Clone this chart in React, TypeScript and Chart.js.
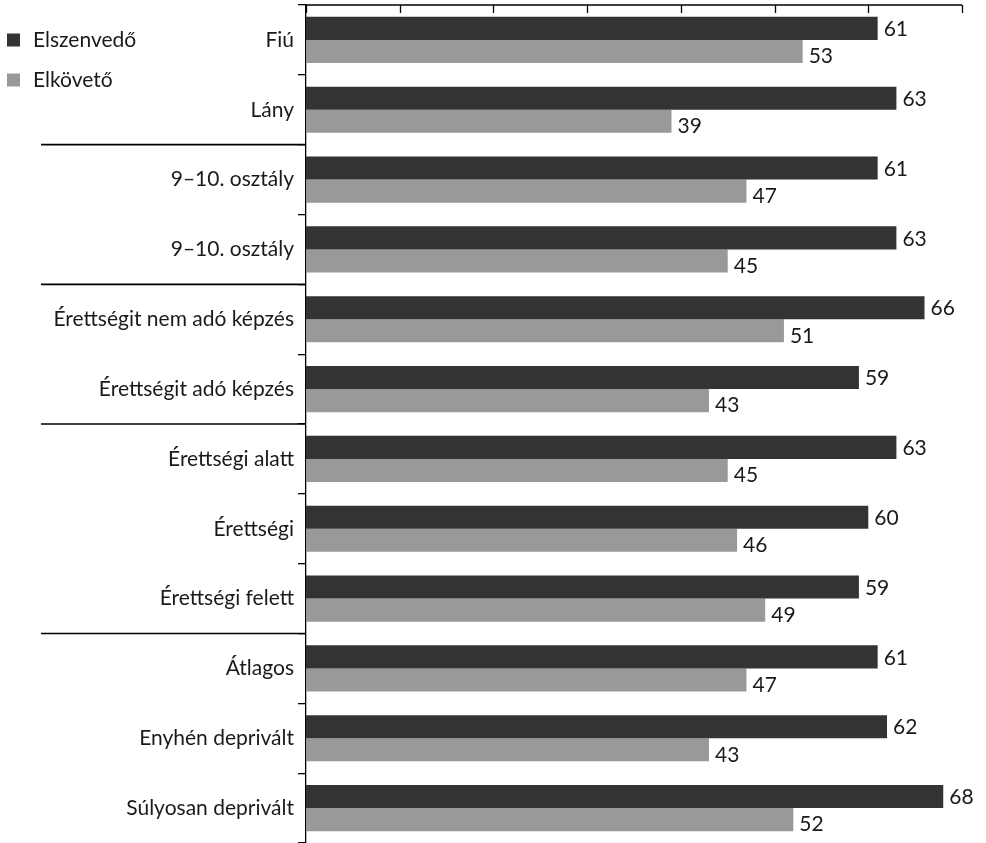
import React, { useEffect, useRef } from "react";
import { Chart, registerables } from "chart.js";

Chart.register(...registerables);

const categories = [
  "Fiú",
  "Lány",
  "9–10. osztály",
  "9–10. osztály",
  "Érettségit nem adó képzés",
  "Érettségit adó képzés",
  "Érettségi alatt",
  "Érettségi",
  "Érettségi felett",
  "Átlagos",
  "Enyhén deprivált",
  "Súlyosan deprivált",
];
const elszenvedo = [61, 63, 61, 63, 66, 59, 63, 60, 59, 61, 62, 68];
const elkoveto = [53, 39, 47, 45, 51, 43, 45, 46, 49, 47, 43, 52];
const seriesNames = ["Elszenvedő", "Elkövető"];
const seriesColors = ["#333333", "#999999"];
// separator lines drawn after these category indices
const groupBreaks = [1, 3, 5, 8];
const xMin = 0;
const xMax = 70;
const xStep = 10;

const FONT = "Lato";
const FONT_SIZE = 21;
const TEXT_COLOR = "#1a1a1a";

const customPlugin = {
  id: "customDecor",
  afterDraw(chart: any) {
    const ctx = chart.ctx as CanvasRenderingContext2D;
    const { left, top } = chart.chartArea;
    const xs = chart.scales.x;
    const ys = chart.scales.y;
    ctx.save();
    ctx.strokeStyle = "#000";
    ctx.lineWidth = 1.3;
    // top axis line
    ctx.beginPath();
    ctx.moveTo(left, top);
    ctx.lineTo(xs.getPixelForValue(xMax), top);
    ctx.stroke();
    // inward tick marks
    for (let v = xMin; v <= xMax; v += xStep) {
      const px = Math.round(xs.getPixelForValue(v)) + 0.5;
      ctx.beginPath();
      ctx.moveTo(px, top);
      ctx.lineTo(px, top + 8);
      ctx.stroke();
    }
    // group separators
    ctx.lineWidth = 1.6;
    groupBreaks.forEach((i) => {
      const py = (ys.getPixelForValue(i) + ys.getPixelForValue(i + 1)) / 2;
      ctx.beginPath();
      ctx.moveTo(41, py);
      ctx.lineTo(left, py);
      ctx.stroke();
    });
    // data labels
    ctx.font = `${FONT_SIZE}px ${FONT}`;
    ctx.fillStyle = TEXT_COLOR;
    ctx.textAlign = "left";
    ctx.textBaseline = "middle";
    chart.data.datasets.forEach((ds: any, di: number) => {
      const meta = chart.getDatasetMeta(di);
      meta.data.forEach((bar: any, i: number) => {
        ctx.fillText(String(ds.data[i]), bar.x + 6, bar.y + (di === 1 ? 5 : 1));
      });
    });
    // legend
    const legendY = [40, 80];
    chart.data.datasets.forEach((ds: any, di: number) => {
      const cy = legendY[di];
      ctx.fillStyle = ds.backgroundColor;
      ctx.fillRect(7, cy - 6.5, 13, 13);
      ctx.fillStyle = TEXT_COLOR;
      ctx.fillText(ds.label, 33, cy);
    });
    ctx.restore();
  },
};

export default function App() {
  const canvasRef = useRef<HTMLCanvasElement | null>(null);

  useEffect(() => {
    if (!canvasRef.current) return;
    const chart = new Chart(canvasRef.current, {
      type: "bar",
      data: {
        labels: categories,
        datasets: [
          {
            label: seriesNames[0],
            data: elszenvedo,
            backgroundColor: seriesColors[0],
            categoryPercentage: 0.66,
            barPercentage: 1,
          },
          {
            label: seriesNames[1],
            data: elkoveto,
            backgroundColor: seriesColors[1],
            categoryPercentage: 0.66,
            barPercentage: 1,
          },
        ],
      },
      options: {
        indexAxis: "y",
        responsive: false,
        animation: false,
        layout: { padding: { top: 5, left: 0, right: 24, bottom: -2 } },
        plugins: {
          legend: { display: false },
          tooltip: { enabled: false },
        },
        scales: {
          x: {
            type: "linear",
            position: "top",
            min: xMin,
            max: xMax,
            display: false,
            ticks: { stepSize: xStep },
          },
          y: {
            type: "category",
            grid: {
              display: true,
              drawOnChartArea: false,
              drawTicks: true,
              tickLength: 8,
              color: "#000",
              lineWidth: 1.3,
              offset: true,
            },
            border: { display: true, color: "#000", width: 1.3 },
            ticks: {
              color: TEXT_COLOR,
              font: { family: FONT, size: FONT_SIZE },
              padding: 4,
              autoSkip: false,
            },
            afterFit(scale: any) {
              scale.width = 306;
              scale.paddingTop = 0;
              scale.paddingBottom = 0;
            },
          },
        },
      },
      plugins: [customPlugin],
    } as any);
    return () => chart.destroy();
  }, []);

  return (
    <div style={{ position: "absolute", left: 0, top: 0, width: 986, height: 843 }}>
      <canvas ref={canvasRef} width={986} height={843} />
    </div>
  );
}
